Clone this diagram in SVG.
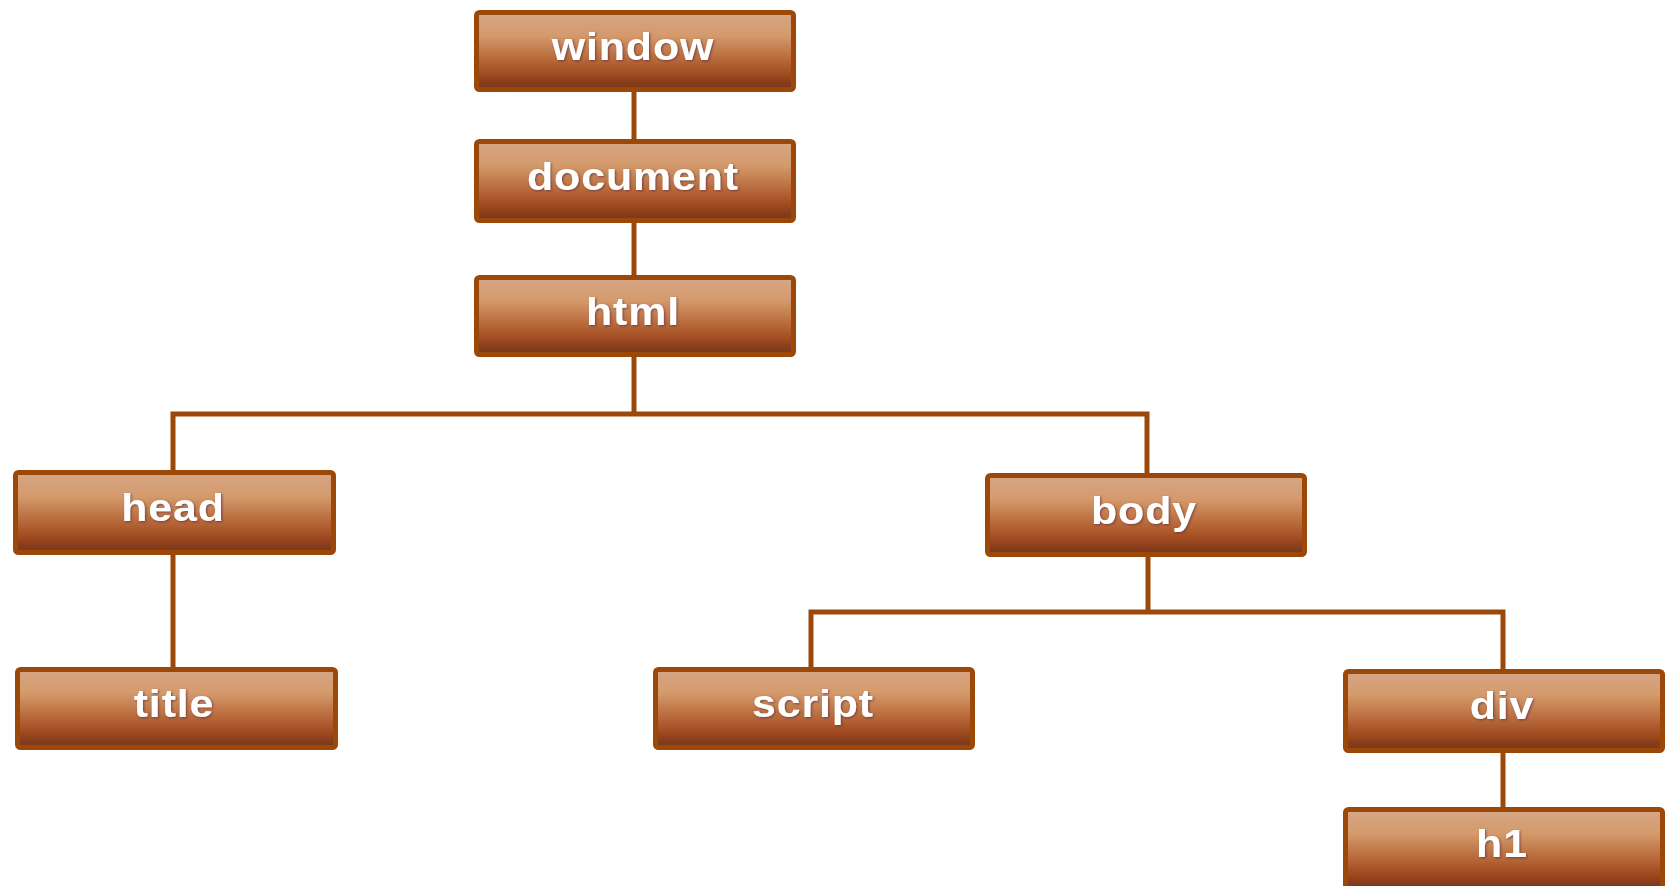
<svg xmlns="http://www.w3.org/2000/svg" width="1667" height="886" viewBox="0 0 1667 886">
  <defs>
    <linearGradient id="g" x1="0" y1="0" x2="0" y2="1">
      <stop offset="0" stop-color="#d6a686"/>
      <stop offset="0.3" stop-color="#d49a6c"/>
      <stop offset="0.6" stop-color="#b96a3b"/>
      <stop offset="0.8" stop-color="#a04b21"/>
      <stop offset="0.92" stop-color="#853c1a"/>
      <stop offset="1" stop-color="#7a3818"/>
    </linearGradient>
    <filter id="sh" x="-10%" y="-20%" width="120%" height="140%">
      <feDropShadow dx="1" dy="1" stdDeviation="0.8" flood-color="#5a2a40" flood-opacity="0.7"/>
    </filter>
  </defs>
  <style>
    .box { fill: url(#g); stroke: #9b4808; stroke-width: 5; }
    .lbl { font-family: "Liberation Sans", Arial, sans-serif; font-weight: bold; font-size: 39px; letter-spacing: 0.8px; fill: #ffffff; text-anchor: middle; filter: url(#sh); }
    .con { fill: none; stroke: #9b4808; stroke-width: 5; }
  </style>
  <rect width="1667" height="886" fill="#ffffff"/>
  <g id="connectors">
    <line class="con" x1="634" y1="90" x2="634" y2="141"/>
    <line class="con" x1="634" y1="221" x2="634" y2="277"/>
    <line class="con" x1="634" y1="355" x2="634" y2="414"/>
    <polyline class="con" points="173,472 173,414 1147,414 1147,475"/>
    <line class="con" x1="173" y1="553" x2="173" y2="669"/>
    <line class="con" x1="1148" y1="555" x2="1148" y2="612"/>
    <polyline class="con" points="811,669 811,612 1503,612 1503,671"/>
    <line class="con" x1="1503" y1="751" x2="1503" y2="809"/>
  </g>
  <g id="node-window">
    <rect class="box" x="476.5" y="12.5" width="317" height="77" rx="3"/>
    <text class="lbl" transform="translate(633 60) scale(1.1 1)">window</text>
  </g>
  <g id="node-document">
    <rect class="box" x="476.5" y="141.5" width="317" height="79" rx="3"/>
    <text class="lbl" transform="translate(633 190) scale(1.1 1)">document</text>
  </g>
  <g id="node-html">
    <rect class="box" x="476.5" y="277.5" width="317" height="77" rx="3"/>
    <text class="lbl" transform="translate(633 325) scale(1.1 1)">html</text>
  </g>
  <g id="node-head">
    <rect class="box" x="15.5" y="472.5" width="318" height="80" rx="3"/>
    <text class="lbl" transform="translate(173 521) scale(1.1 1)">head</text>
  </g>
  <g id="node-body">
    <rect class="box" x="987.5" y="475.5" width="317" height="79" rx="3"/>
    <text class="lbl" transform="translate(1144 524) scale(1.1 1)">body</text>
  </g>
  <g id="node-title">
    <rect class="box" x="17.5" y="669.5" width="318" height="78" rx="3"/>
    <text class="lbl" transform="translate(174 717) scale(1.1 1)">title</text>
  </g>
  <g id="node-script">
    <rect class="box" x="655.5" y="669.5" width="317" height="78" rx="3"/>
    <text class="lbl" transform="translate(813 717) scale(1.1 1)">script</text>
  </g>
  <g id="node-div">
    <rect class="box" x="1345.5" y="671.5" width="317" height="79" rx="3"/>
    <text class="lbl" transform="translate(1502 719) scale(1.1 1)">div</text>
  </g>
  <g id="node-h1">
    <rect class="box" x="1345.5" y="809.5" width="317" height="80" rx="3"/>
    <text class="lbl" transform="translate(1502 857) scale(1.1 1)">h1</text>
  </g>
</svg>
